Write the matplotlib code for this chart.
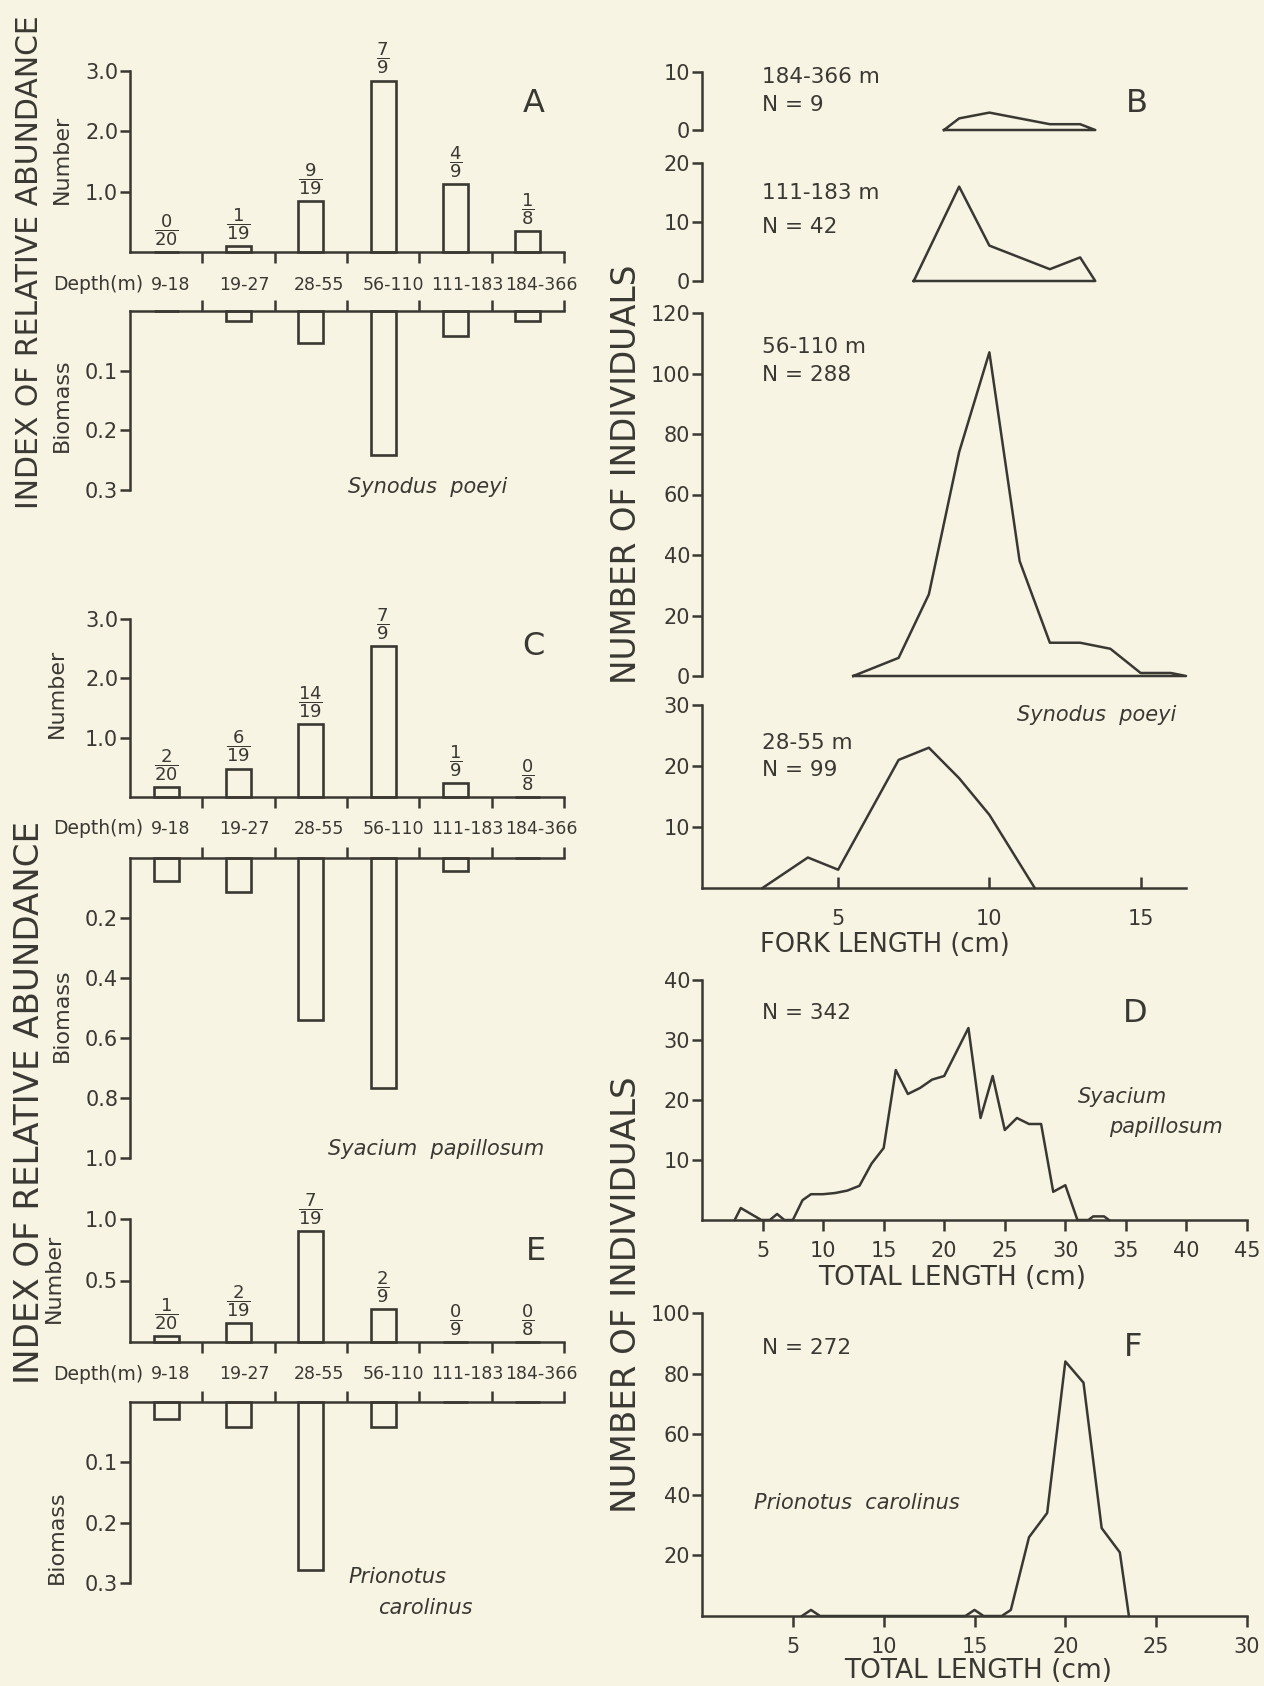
import matplotlib
matplotlib.use("Agg")
import matplotlib.pyplot as plt

W, H = 1264, 1686
INK = "#3a3832"
PAPER = "#f8f4e4"

plt.rcParams.update({
    "font.family": ["DejaVu Sans"],
    "mathtext.fontset": "dejavusans",
    "text.color": INK,
    "axes.edgecolor": INK,
    "xtick.color": INK,
    "ytick.color": INK,
    "axes.linewidth": 1.8,
})

# ---------------------------------------------------------------- data
depth_labels = ["9-18", "19-27", "28-55", "56-110", "111-183", "184-366"]

# A: Synodus poeyi, index of relative abundance by depth stratum
a_number = [0.0, 0.10, 0.84, 2.84, 1.12, 0.34]
a_biomass = [0.0, 0.017, 0.053, 0.242, 0.042, 0.017]
a_hits = [0, 1, 9, 7, 4, 1]
a_tows = [20, 19, 19, 9, 9, 8]

# C: Syacium papillosum
c_number = [0.17, 0.48, 1.23, 2.54, 0.24, 0.0]
c_biomass = [0.077, 0.114, 0.54, 0.765, 0.044, 0.0]
c_hits = [2, 6, 14, 7, 1, 0]
c_tows = [20, 19, 19, 9, 9, 8]

# E: Prionotus carolinus
e_number = [0.05, 0.155, 0.90, 0.27, 0.0, 0.0]
e_biomass = [0.029, 0.042, 0.278, 0.042, 0.0, 0.0]
e_hits = [1, 2, 7, 2, 0, 0]
e_tows = [20, 19, 19, 9, 9, 8]

# B: Synodus poeyi fork-length frequencies (cm) per depth stratum
b184_len = [8.5, 9, 10, 11, 12, 13, 13.5]
b184_cnt = [0, 2, 3, 2, 1, 1, 0]
b111_len = [7.5, 9, 10, 11, 12, 13, 13.5]
b111_cnt = [0, 16, 6, 4, 2, 4, 0]
b56_len = [5.5, 7, 8, 9, 10, 11, 12, 13, 14, 15, 16, 16.5]
b56_cnt = [0, 6, 27, 74, 107, 38, 11, 11, 9, 1, 1, 0]
b28_len = [2.5, 4, 5, 6, 7, 8, 9, 10, 11, 11.5]
b28_cnt = [0, 5, 3, 12, 21, 23, 18, 12, 4, 0]

# D: Syacium papillosum total-length frequencies (cm)
d_len = [2.7, 3.2, 4.3, 4.9, 5.6, 6.2, 6.8, 7.5, 8.3, 9, 10, 11, 12, 13, 14,
         15, 16, 17, 18, 19, 20, 21, 22, 23, 24, 25, 26, 27, 28, 29, 30, 31,
         31.9, 32.3, 33.2, 33.6]
d_cnt = [0, 2, 0.7, 0, 0, 1, 0, 0, 3.3, 4.3, 4.3, 4.5, 4.9, 5.7, 9.4,
         12, 25, 21, 22, 23.4, 24, 28, 32, 17, 24, 15, 17, 16, 16, 4.7, 5.8, 0,
         0, 0.6, 0.6, 0]

# F: Prionotus carolinus total-length frequencies (cm)
f_len = [5.5, 6, 6.5, 14.5, 15, 15.5, 16.5, 17, 18, 19, 20, 21, 22, 23, 23.5]
f_cnt = [0, 2, 0, 0, 2, 0, 0, 2, 26, 34, 84, 77, 29, 21, 0]

# ---------------------------------------------------------------- helpers
fig = plt.figure(figsize=(W / 100, H / 100), dpi=100, facecolor=PAPER)


def px_axes(l, t, r, b):
    ax = fig.add_axes([l / W, 1 - b / H, (r - l) / W, (b - t) / H])
    ax.set_facecolor("none")
    return ax


def put(x, y, s, **kw):
    kw.setdefault("ha", "center")
    kw.setdefault("va", "center")
    return fig.text(x / W, 1 - y / H, s, **kw)


X0, X1 = 130, 564
CAT_W = (X1 - X0) / 6


def abundance(num_box, bio_box, row_y, number, biomass, hits, tows,
              num_ticks, bio_ticks):
    centers = [i + 0.5 for i in range(6)]

    up = px_axes(X0, num_box[0], X1, num_box[1])
    up.bar(centers, number, width=0.35, fill=False, edgecolor=INK,
           linewidth=1.9, clip_on=False)
    up.set_xlim(0, 6)
    up.set_ylim(0, num_ticks[-1])
    up.spines[["top", "right"]].set_visible(False)
    up.set_xticks(range(1, 7))
    up.tick_params(axis="x", direction="out", length=8, width=1.8,
                   labelbottom=False)
    up.set_yticks(num_ticks, [f"{v:.1f}" for v in num_ticks])
    up.tick_params(axis="y", direction="out", length=7, width=1.8,
                   labelsize=15, pad=1.5)
    for c, v, h, n in zip(centers, number, hits, tows):
        up.annotate(rf"$\dfrac{{{h}}}{{{n}}}$", xy=(c, v), xytext=(0, 3),
                    textcoords="offset points", ha="center", va="bottom",
                    fontsize=13, color=INK, annotation_clip=False)

    lo = px_axes(X0, bio_box[0], X1, bio_box[1])
    lo.bar(centers, biomass, width=0.35, fill=False, edgecolor=INK,
           linewidth=1.9, clip_on=False)
    lo.set_xlim(0, 6)
    lo.set_ylim(bio_ticks[-1], 0)
    lo.spines[["bottom", "right"]].set_visible(False)
    lo.xaxis.tick_top()
    lo.set_xticks(range(1, 7))
    lo.tick_params(axis="x", direction="out", length=8, width=1.8,
                   labeltop=False)
    lo.set_yticks(bio_ticks, [f"{v:.1f}" for v in bio_ticks])
    lo.tick_params(axis="y", direction="out", length=7, width=1.8,
                   labelsize=15, pad=1.5)

    put(143, row_y, "Depth(m)", ha="right", fontsize=13.5)
    for i, lab in enumerate(depth_labels):
        put(X0 + (i + 0.5) * CAT_W + 4 + 2 * i, row_y, lab, fontsize=12.5)


def freq_axes(l, t, r, b, xlim, ylim, yticks, xticks=None, xdir="out",
              xpad=4):
    ax = px_axes(l, t, r, b)
    ax.set_xlim(*xlim)
    ax.set_ylim(*ylim)
    ax.spines[["top", "right"]].set_visible(False)
    ax.set_yticks(yticks, [str(v) for v in yticks])
    ax.tick_params(axis="y", direction="out", length=7, width=1.8,
                   labelsize=15, pad=1.5)
    if xticks is None:
        ax.spines["bottom"].set_visible(False)
        ax.set_xticks([])
    else:
        ax.set_xticks(xticks, [str(v) for v in xticks])
        ax.tick_params(axis="x", direction=xdir, length=8, width=1.8,
                       labelsize=15, pad=xpad)
    return ax


def polygon(ax, x, y, closed=False):
    if closed:
        x = list(x) + [x[0]]
        y = list(y) + [y[0]]
    ax.plot(x, y, color=INK, linewidth=1.8, clip_on=False)


# ---------------------------------------------------------------- left column
abundance((71, 252), (311, 490), 285, a_number, a_biomass, a_hits, a_tows,
          [1.0, 2.0, 3.0], [0.1, 0.2, 0.3])
abundance((619, 797), (858, 1158), 829, c_number, c_biomass, c_hits, c_tows,
          [1.0, 2.0, 3.0], [0.2, 0.4, 0.6, 0.8, 1.0])
abundance((1219, 1342), (1402, 1583), 1374, e_number, e_biomass, e_hits,
          e_tows, [0.5, 1.0], [0.1, 0.2, 0.3])

put(30, 262, "INDEX OF RELATIVE ABUNDANCE", rotation=90, fontsize=21.5)
put(30, 1102, "INDEX OF RELATIVE ABUNDANCE", rotation=90, fontsize=24.5)
for x, y, s in [(62, 159, "Number"), (62, 405, "Biomass"),
                (57, 693, "Number"), (62, 1015, "Biomass"),
                (54, 1278, "Number"), (57, 1537, "Biomass")]:
    put(x, y, s, rotation=90, fontsize=16)

put(534, 103, "A", fontsize=23)
put(533, 647, "C", fontsize=23)
put(536, 1252, "E", fontsize=23)
put(428, 487, "Synodus  poeyi", fontsize=15, style="italic")
put(436, 1149, "Syacium  papillosum", fontsize=15, style="italic")
put(397, 1577, "Prionotus", fontsize=15, style="italic")
put(425, 1608, "carolinus", fontsize=15, style="italic")

# ---------------------------------------------------------------- right column
BX = (0.5, 16.5)
b1 = freq_axes(702, 72, 1186, 130, BX, (0, 10), [0, 10])
polygon(b1, b184_len, b184_cnt, closed=True)
b2 = freq_axes(702, 163, 1186, 281, BX, (0, 20), [0, 10, 20])
polygon(b2, b111_len, b111_cnt, closed=True)
b3 = freq_axes(702, 313, 1186, 676, BX, (0, 120), [0, 20, 40, 60, 80, 100, 120])
polygon(b3, b56_len, b56_cnt, closed=True)
b4 = freq_axes(702, 705, 1186, 888, BX, (0, 30), [10, 20, 30],
               xticks=[5, 10, 15], xdir="in", xpad=15)
polygon(b4, b28_len, b28_cnt)

d = freq_axes(702, 980, 1247, 1220, (0, 45), (0, 40), [10, 20, 30, 40],
              xticks=list(range(5, 50, 5)), xdir="out", xpad=7)
polygon(d, d_len, d_cnt)
f = freq_axes(702, 1313, 1247, 1616, (0, 30), (0, 100), [20, 40, 60, 80, 100],
              xticks=list(range(5, 35, 5)), xdir="out", xpad=7)
polygon(f, f_len, f_cnt)

for y, s in [(77, "184-366 m"), (105, "N = 9"), (193, "111-183 m"),
             (227, "N = 42"), (347, "56-110 m"), (375, "N = 288"),
             (743, "28-55 m"), (770, "N = 99"), (1013, "N = 342"),
             (1348, "N = 272")]:
    put(762, y, s, ha="left", fontsize=15.5)

put(1137, 103, "B", fontsize=23)
put(1135, 1013, "D", fontsize=23)
put(1133, 1347, "F", fontsize=23)

put(885, 945, "FORK LENGTH (cm)", fontsize=18.5)
put(952, 1278, "TOTAL LENGTH (cm)", fontsize=19)
put(978, 1671, "TOTAL LENGTH (cm)", fontsize=19)

put(627, 474, "NUMBER OF INDIVIDUALS", rotation=90, fontsize=23.5)
put(627, 1295, "NUMBER OF INDIVIDUALS", rotation=90, fontsize=24.5)

put(1097, 715, "Synodus  poeyi", fontsize=15, style="italic")
put(1123, 1097, "Syacium", fontsize=15, style="italic")
put(1166, 1127, "papillosum", fontsize=15, style="italic")
put(857, 1503, "Prionotus  carolinus", fontsize=15, style="italic")

fig.savefig("out.png", dpi=100, facecolor=PAPER)
